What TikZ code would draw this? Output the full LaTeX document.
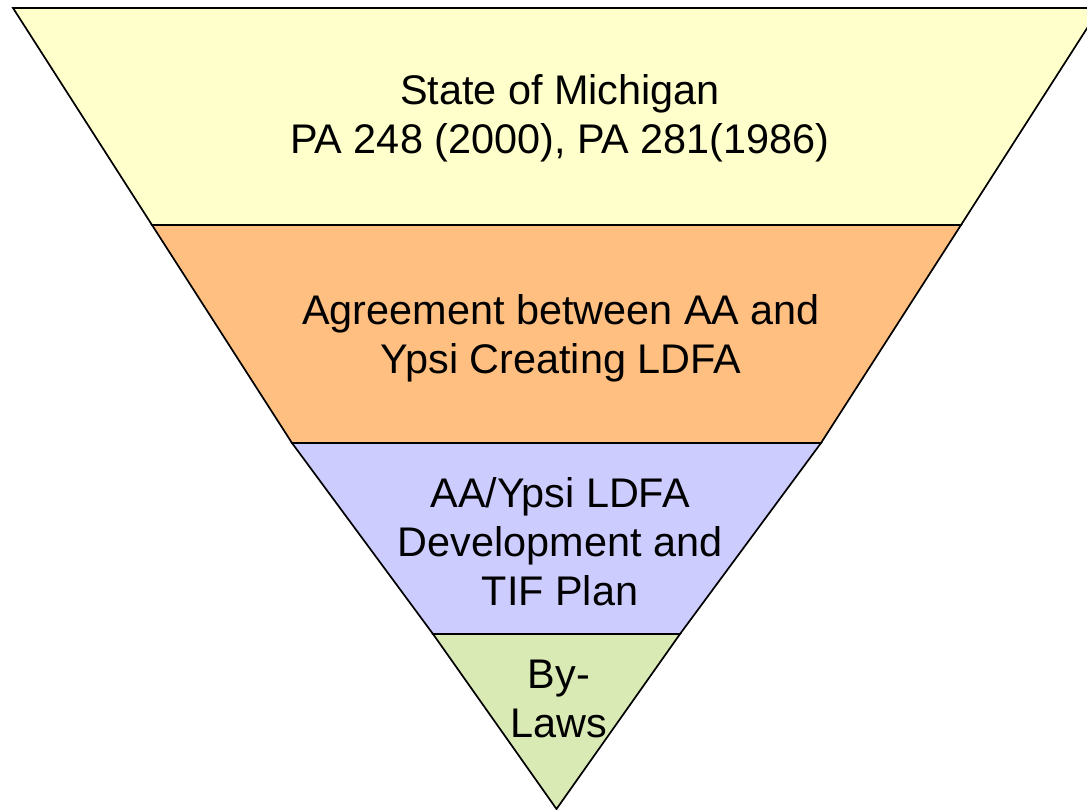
\documentclass[tikz,border=0pt]{standalone}
\usepackage{fontspec}
\setmainfont{Liberation Sans}
\begin{document}
\begin{tikzpicture}[x=1pt,y=-1pt,
  tier/.style={draw=black,line width=1.7pt,line join=miter},
  lbl/.style={align=center,font=\fontsize{41.4}{49}\selectfont,inner sep=0pt}]
\definecolor{cyel}{RGB}{255,255,204}
\definecolor{cora}{RGB}{255,191,128}
\definecolor{clav}{RGB}{204,204,255}
\definecolor{cgrn}{RGB}{217,234,181}
\useasboundingbox (0,0) rectangle (1087,810);
\coordinate (A1) at (13,8);     \coordinate (B1) at (1100,8);
\coordinate (A2) at (152,225);  \coordinate (B2) at (961,225);
\coordinate (A3) at (292,443);  \coordinate (B3) at (821,443);
\coordinate (A4) at (433,634);  \coordinate (B4) at (680,634);
\coordinate (P) at (556.5,809);
\fill[cyel] (A1) -- (B1) -- (B2) -- (A2) -- cycle;
\fill[cora] (A2) -- (B2) -- (B3) -- (A3) -- cycle;
\fill[clav] (A3) -- (B3) -- (B4) -- (A4) -- cycle;
\fill[cgrn] (A4) -- (B4) -- (P) -- cycle;
\draw[tier] (A1) -- (B1) -- (B2) -- (A2) -- cycle;
\draw[tier] (A2) -- (B2) -- (B3) -- (A3) -- cycle;
\draw[tier] (A3) -- (B3) -- (B4) -- (A4) -- cycle;
\draw[tier] (A4) -- (B4) -- (P) -- cycle;
\node[lbl] (t1) at (560,118) {State of Michigan\\PA 248 (2000), PA 281(1986)};
\node[lbl] (t2) at (561,338) {Agreement between AA and\\Ypsi Creating LDFA};
\node[lbl] (t3) at (560,542) {AA/Ypsi LDFA\\Development and\\TIF Plan};
\node[lbl] (t4) at (559,699) {By-\\Laws};
\end{tikzpicture}
\end{document}
